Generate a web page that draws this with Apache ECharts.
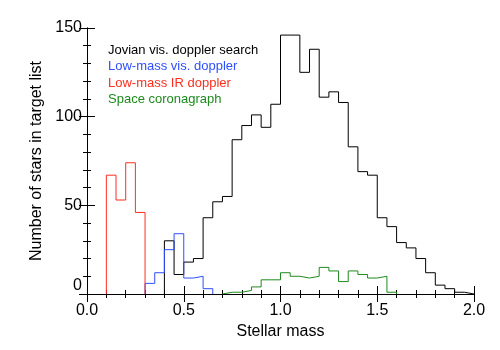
<!DOCTYPE html>
<html>
<head>
<meta charset="utf-8">
<script src="https://cdn.jsdelivr.net/npm/echarts@6/dist/echarts.min.js"></script>
<style>html,body{margin:0;padding:0;background:#fff}#c{width:500px;height:350px}</style>
</head>
<body>
<div id="c"></div>
<script>
// Bin width and per-series histogram data (first bin start + counts)
var binWidth = 0.05;
var jovianStart = 0.40;
var jovianCounts = [30, 11, 18, 20, 43, 52, 55, 87, 95, 101, 94, 107, 146, 146, 125, 138,
                    111, 114, 108, 83, 69, 67, 43, 38, 29, 26, 20, 12, 5, 3, 1, 0];
var lowVisStart = 0.30;
var lowVisCounts = [6, 12, 25, 34, 9, 10, 3];
var lowIRStart = 0.10;
var lowIRCounts = [67, 53, 74, 46];
var spaceStart = 0.70;
var spaceCounts = [1, 1, 2, 4, 8, 8, 12, 10, 9, 10, 15, 13, 7, 13, 11, 9, 10, 1];

var seriesNames = ['Jovian vis. doppler search', 'Low-mass vis. doppler', 'Low-mass IR doppler', 'Space coronagraph'];
var seriesColors = ['#000000', '#2f4fff', '#ff2f1f', '#1e8a1e'];

var xTicks = [0, 0.5, 1.0, 1.5, 2.0];
var yTicks = [0, 50, 100, 150];

function stepPoints(start, counts) {
  var pts = [[start, 0]];
  for (var i = 0; i < counts.length; i++) {
    pts.push([+(start + i * binWidth).toFixed(3), counts[i]]);
  }
  pts.push([+(start + counts.length * binWidth).toFixed(3), 0]);
  return pts;
}

var allData = [
  stepPoints(jovianStart, jovianCounts),
  stepPoints(lowVisStart, lowVisCounts),
  stepPoints(lowIRStart, lowIRCounts),
  stepPoints(spaceStart, spaceCounts)
];

var font = 'Liberation Sans, Arial, Helvetica, sans-serif';
var chart = echarts.init(document.getElementById('c'), null, {renderer: 'canvas'});

var baseTick = {show: true, inside: true, length: 8, lineStyle: {color: '#000', width: 1}};
var baseMinor = {show: true, splitNumber: 5, length: 4, lineStyle: {color: '#000', width: 1}};

var option = {
  backgroundColor: '#fff',
  animation: false,
  grid: {left: 87, right: 26, top: 28, bottom: 56, containLabel: false},
  legend: {
    show: true,
    orient: 'vertical',
    left: 98,
    top: 38,
    icon: 'none',
    itemWidth: 0,
    itemHeight: 14,
    itemGap: 3,
    selectedMode: false,
    textStyle: {fontFamily: font, fontSize: 13},
    data: seriesNames.map(function (n, i) {
      return {name: n, icon: 'none', textStyle: {color: seriesColors[i]}};
    })
  },
  xAxis: [{
    type: 'value', min: xTicks[0], max: xTicks[xTicks.length - 1], interval: 0.5,
    position: 'bottom',
    name: 'Stellar mass', nameLocation: 'middle', nameGap: 29,
    nameTextStyle: {fontFamily: font, fontSize: 16, color: '#000'},
    axisLine: {show: true, lineStyle: {color: '#000', width: 1}},
    axisTick: baseTick, minorTick: baseMinor,
    axisLabel: {fontFamily: font, fontSize: 16, color: '#000', margin: 9,
      formatter: function (v) { return v.toFixed(1); }},
    splitLine: {show: false}
  }, {
    type: 'value', min: xTicks[0], max: xTicks[xTicks.length - 1], interval: 0.5,
    position: 'top',
    axisLine: {show: true, lineStyle: {color: '#000', width: 1}},
    axisTick: baseTick, minorTick: baseMinor,
    axisLabel: {show: false}, splitLine: {show: false}
  }],
  yAxis: [{
    type: 'value', min: yTicks[0], max: yTicks[yTicks.length - 1], interval: 50,
    position: 'left',
    name: 'Number of stars in target list', nameLocation: 'middle', nameGap: 39,
    nameTextStyle: {fontFamily: font, fontSize: 16, color: '#000'},
    axisLine: {show: true, lineStyle: {color: '#000', width: 1}},
    axisTick: baseTick, minorTick: baseMinor,
    axisLabel: {fontFamily: font, fontSize: 16, color: '#000', margin: 5,
      verticalAlignMinLabel: 'bottom'},
    splitLine: {show: false}
  }, {
    type: 'value', min: yTicks[0], max: yTicks[yTicks.length - 1], interval: 50,
    position: 'right',
    axisLine: {show: true, lineStyle: {color: '#000', width: 1}},
    axisTick: baseTick, minorTick: baseMinor,
    axisLabel: {show: false}, splitLine: {show: false}
  }],
  series: seriesNames.map(function (n, i) {
    return {
      name: n, type: 'line', step: 'end', data: allData[i],
      xAxisIndex: 0, yAxisIndex: 0,
      symbol: 'none', showSymbol: false,
      lineStyle: {color: seriesColors[i], width: 1},
      itemStyle: {color: seriesColors[i]},
      z: 3 + i
    };
  })
};
chart.setOption(option);
</script>
</body>
</html>
